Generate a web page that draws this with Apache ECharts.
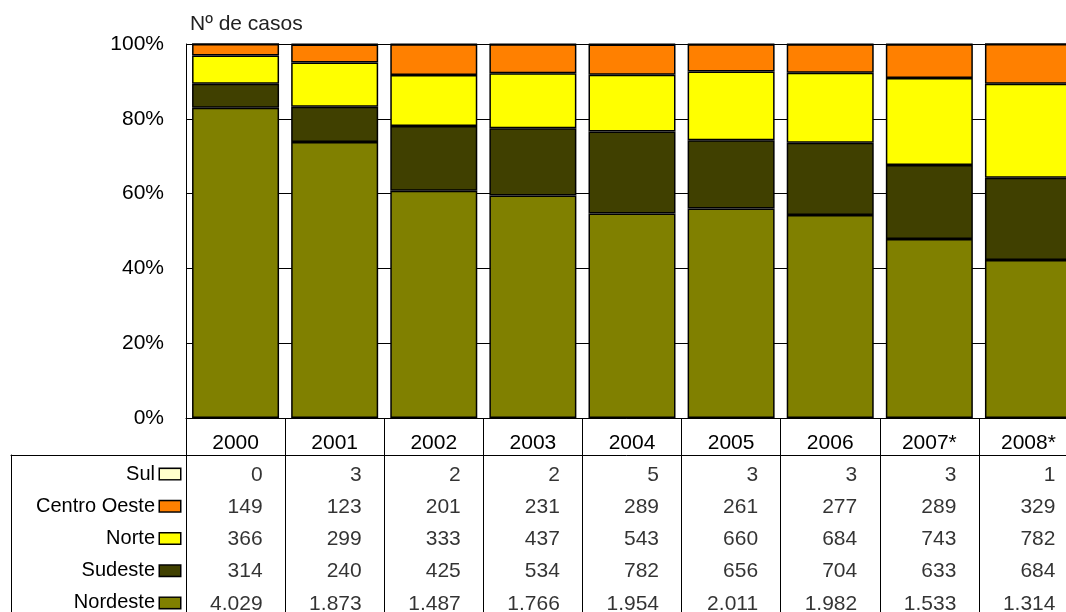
<!DOCTYPE html>
<html>
<head>
<meta charset="utf-8">
<script src="https://cdn.jsdelivr.net/npm/echarts@6/dist/echarts.min.js"></script>
<style>
html,body{margin:0;padding:0;background:#fff;}
#chart{width:1066px;height:612px;}
</style>
</head>
<body>
<div id="chart"></div>
<script>
// ---- data ----
const years = ['2000','2001','2002','2003','2004','2005','2006','2007*','2008*'];
const sul = [0,3,2,2,5,3,3,3,1];
const centroOeste = [149,123,201,231,289,261,277,289,329];
const norte = [366,299,333,437,543,660,684,743,782];
const sudeste = [314,240,425,534,782,656,704,633,684];
const nordeste = [4029,1873,1487,1766,1954,2011,1982,1533,1314];
const rowNames = ['Sul','Centro Oeste','Norte','Sudeste','Nordeste'];
const rowValues = [sul, centroOeste, norte, sudeste, nordeste];
const rowColors = ['#FFFFCC','#FF8000','#FFFF00','#404000','#808000'];
const axisTitle = 'Nº de casos';

// ---- derived ----
const totals = years.map((_, i) => rowValues.reduce((s, arr) => s + arr[i], 0));
const pct = arr => arr.map((v, i) => v / totals[i] * 100);
const fmt = v => String(v).replace(/\B(?=(\d{3})+(?!\d))/g, '.');

const FONT = "'Liberation Sans', Arial, sans-serif";
const black = '#000';

// stacked bars bottom -> top: Nordeste, Sudeste, Norte, Centro Oeste, Sul
const stackOrder = [4, 3, 2, 1, 0];
const barSeries = stackOrder.map(r => ({
  name: rowNames[r],
  type: 'bar',
  stack: 'total',
  xAxisIndex: 0, yAxisIndex: 0,
  barWidth: 87,
  data: pct(rowValues[r]),
  itemStyle: { color: rowColors[r], borderColor: black, borderWidth: 1.5 },
  emphasis: { disabled: true },
  silent: true
}));

const tableData = [];
rowNames.forEach((name, r) => {
  years.forEach((y, i) => tableData.push([y, name, rowValues[r][i]]));
});

const rich = { t: { fontSize: 20, fontFamily: FONT, color: black, padding: [0, 5, 0, 0] } };
rowColors.forEach((c, i) => {
  rich['s' + i] = { width: 20, height: 10, backgroundColor: c, borderColor: black, borderWidth: 1.5 };
});

const chart = echarts.init(document.getElementById('chart'), null, { renderer: 'canvas' });
chart.setOption({
  animation: false,
  backgroundColor: '#fff',
  textStyle: { fontFamily: FONT },
  title: {
    text: axisTitle, left: 185, top: 9,
    textStyle: { fontSize: 21, fontWeight: 'normal', color: '#222', fontFamily: FONT }
  },
  grid: [
    { left: 186, width: 892, top: 44, height: 374, outerBoundsMode: 'none', containLabel: false },
    { left: 186, width: 892, top: 455, height: 161, outerBoundsMode: 'none', containLabel: false },
    { left: 11, width: 175, top: 455, height: 161, outerBoundsMode: 'none', containLabel: false }
  ],
  xAxis: [
    {
      gridIndex: 0, type: 'category', data: years,
      axisLine: { show: true, lineStyle: { color: black, width: 1 } },
      axisTick: { show: true, length: 37, alignWithLabel: false, lineStyle: { color: black, width: 1 } },
      axisLabel: { fontSize: 21, color: black, margin: 15, fontFamily: FONT, interval: 0 },
      splitLine: { show: false }
    },
    {
      gridIndex: 1, type: 'category', data: years, position: 'top',
      axisLine: { show: true, lineStyle: { color: black, width: 1 } },
      axisTick: { show: false }, axisLabel: { show: false },
      splitLine: { show: true, interval: 0, lineStyle: { color: black, width: 1 } }
    },
    {
      gridIndex: 2, type: 'value', position: 'top', min: 0, max: 1,
      axisLine: { show: true, lineStyle: { color: black, width: 1 } },
      axisTick: { show: false }, axisLabel: { show: false }, splitLine: { show: false }
    }
  ],
  yAxis: [
    {
      gridIndex: 0, type: 'value', min: 0, max: 100, interval: 20,
      axisLine: { show: true, lineStyle: { color: black, width: 1 } },
      axisTick: { show: false },
      axisLabel: { formatter: '{value}%', fontSize: 21, color: black, margin: 22, fontFamily: FONT },
      splitLine: { show: true, lineStyle: { color: black, width: 1 } }
    },
    {
      gridIndex: 1, type: 'category', data: rowNames, inverse: true,
      axisLine: { show: true, lineStyle: { color: black, width: 1 } },
      axisTick: { show: false }, axisLabel: { show: false }, splitLine: { show: false }
    },
    {
      gridIndex: 2, type: 'category', data: rowNames, inverse: true, position: 'right',
      axisLine: { show: false }, axisTick: { show: false }, splitLine: { show: false },
      axisLabel: {
        inside: true, margin: 6, interval: 0, padding: [6, 0, 0, 0],
        formatter: (val, idx) => '{t|' + val + '}{s' + idx + '|}',
        rich: rich
      }
    },
    {
      gridIndex: 2, type: 'category', data: rowNames, inverse: true, position: 'left',
      axisLine: { show: true, lineStyle: { color: black, width: 1 } },
      axisTick: { show: false }, axisLabel: { show: false }, splitLine: { show: false }
    }
  ],
  series: barSeries.concat([{
    name: 'tabela',
    type: 'scatter',
    xAxisIndex: 1, yAxisIndex: 1,
    data: tableData,
    symbolSize: 1,
    itemStyle: { color: 'rgba(0,0,0,0)' },
    silent: true,
    label: {
      show: true, position: 'inside', align: 'right', offset: [27, 4],
      fontSize: 21, color: black, fontFamily: FONT,
      formatter: p => fmt(p.value[2])
    }
  }])
});
</script>
</body>
</html>
